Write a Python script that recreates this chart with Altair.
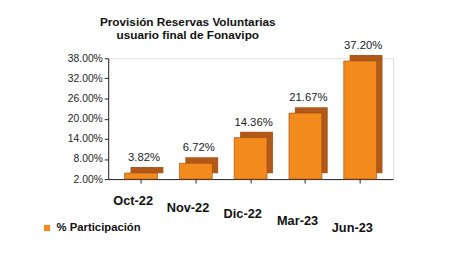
import altair as alt
import pandas as pd

categories = ["Oct-22", "Nov-22", "Dic-22", "Mar-23", "Jun-23"]
values = [3.82, 6.72, 14.36, 21.67, 37.20]
series = ["% Participación"] * 5
y_ticks = [2, 8, 14, 20, 26, 32, 38]

df = pd.DataFrame({"mes": categories, "valor": values, "serie": series})

FRONT = "#F28A1E"
SIDE = "#B0591A"
cat_list = "[" + ",".join(f"'{c}'" for c in categories) + "]"

x = alt.X("mes:N", sort=categories, title=None,
          scale=alt.Scale(paddingInner=0.4, paddingOuter=0.3),
          axis=alt.Axis(labels=False, domainColor="#222", tickColor="#222", tickSize=4))
y_scale = alt.Scale(domain=[2, 38], zero=False, clamp=True, nice=False)
y = alt.Y("valor:Q", scale=y_scale, title=None,
          axis=alt.Axis(values=y_ticks, labelExpr="format(datum.value, '.2f') + '%'",
                        labelFont="Liberation Sans", labelFontSize=10.5, labelColor="#222",
                        domainColor="#222", tickColor="#222", tickSize=4, grid=False))

side = alt.Chart(df).mark_bar(color=SIDE, xOffset=6, x2Offset=6, yOffset=-6, y2Offset=-6).encode(
    x=x, y=y, y2=alt.datum(2))
front = alt.Chart(df).mark_bar(stroke="#9A4A0C", strokeWidth=0.6).encode(
    x=x, y=y, y2=alt.datum(2),
    color=alt.Color("serie:N", scale=alt.Scale(domain=["% Participación"], range=[FRONT]),
                    legend=alt.Legend(title=None, orient="none", legendX=-68, legendY=167,
                                      symbolType="square", symbolSize=40, symbolStrokeWidth=0,
                                      labelFont="Liberation Sans", labelFontSize=11.5,
                                      labelFontWeight="bold", labelColor="#111")))
labels = alt.Chart(df).transform_calculate(
    t="format(datum.valor, '.2f') + '%'"
).mark_text(dy=-15, dx=3, font="Liberation Sans", fontSize=11.5, color="#222").encode(
    x=x, y=y, text="t:N")

bars = alt.layer(side, front, labels)

# category labels, staggered like the perspective floor of the original
cat_labels = alt.Chart(df).transform_calculate(
    fila=f"indexof({cat_list}, datum.mes)"
).mark_text(font="Liberation Sans", fontSize=13, fontWeight="bold", color="#111",
            baseline="middle", dx=-8).encode(
    x=x,
    y=alt.Y("fila:Q", scale=alt.Scale(domain=[0, 4], range=[145, 173]), axis=None),
    text="mes:N")

chart = alt.layer(bars, cat_labels).resolve_scale(y="independent").properties(
    width=290, height=123,
    title=alt.TitleParams(["Provisión Reservas Voluntarias", "usuario final de Fonavipo"],
                          font="Liberation Sans", fontSize=12, fontWeight="bold", color="#111",
                          anchor="middle", dx=-64, dy=16, offset=14, lineHeight=14),
    autosize=alt.AutoSizeParams(type="none"),
    padding={"left": 102, "top": 49, "right": 59, "bottom": 70},
).configure_view(stroke=None).configure(background="white")

chart.save("out.html", embed_options={"renderer": "svg", "actions": False})
